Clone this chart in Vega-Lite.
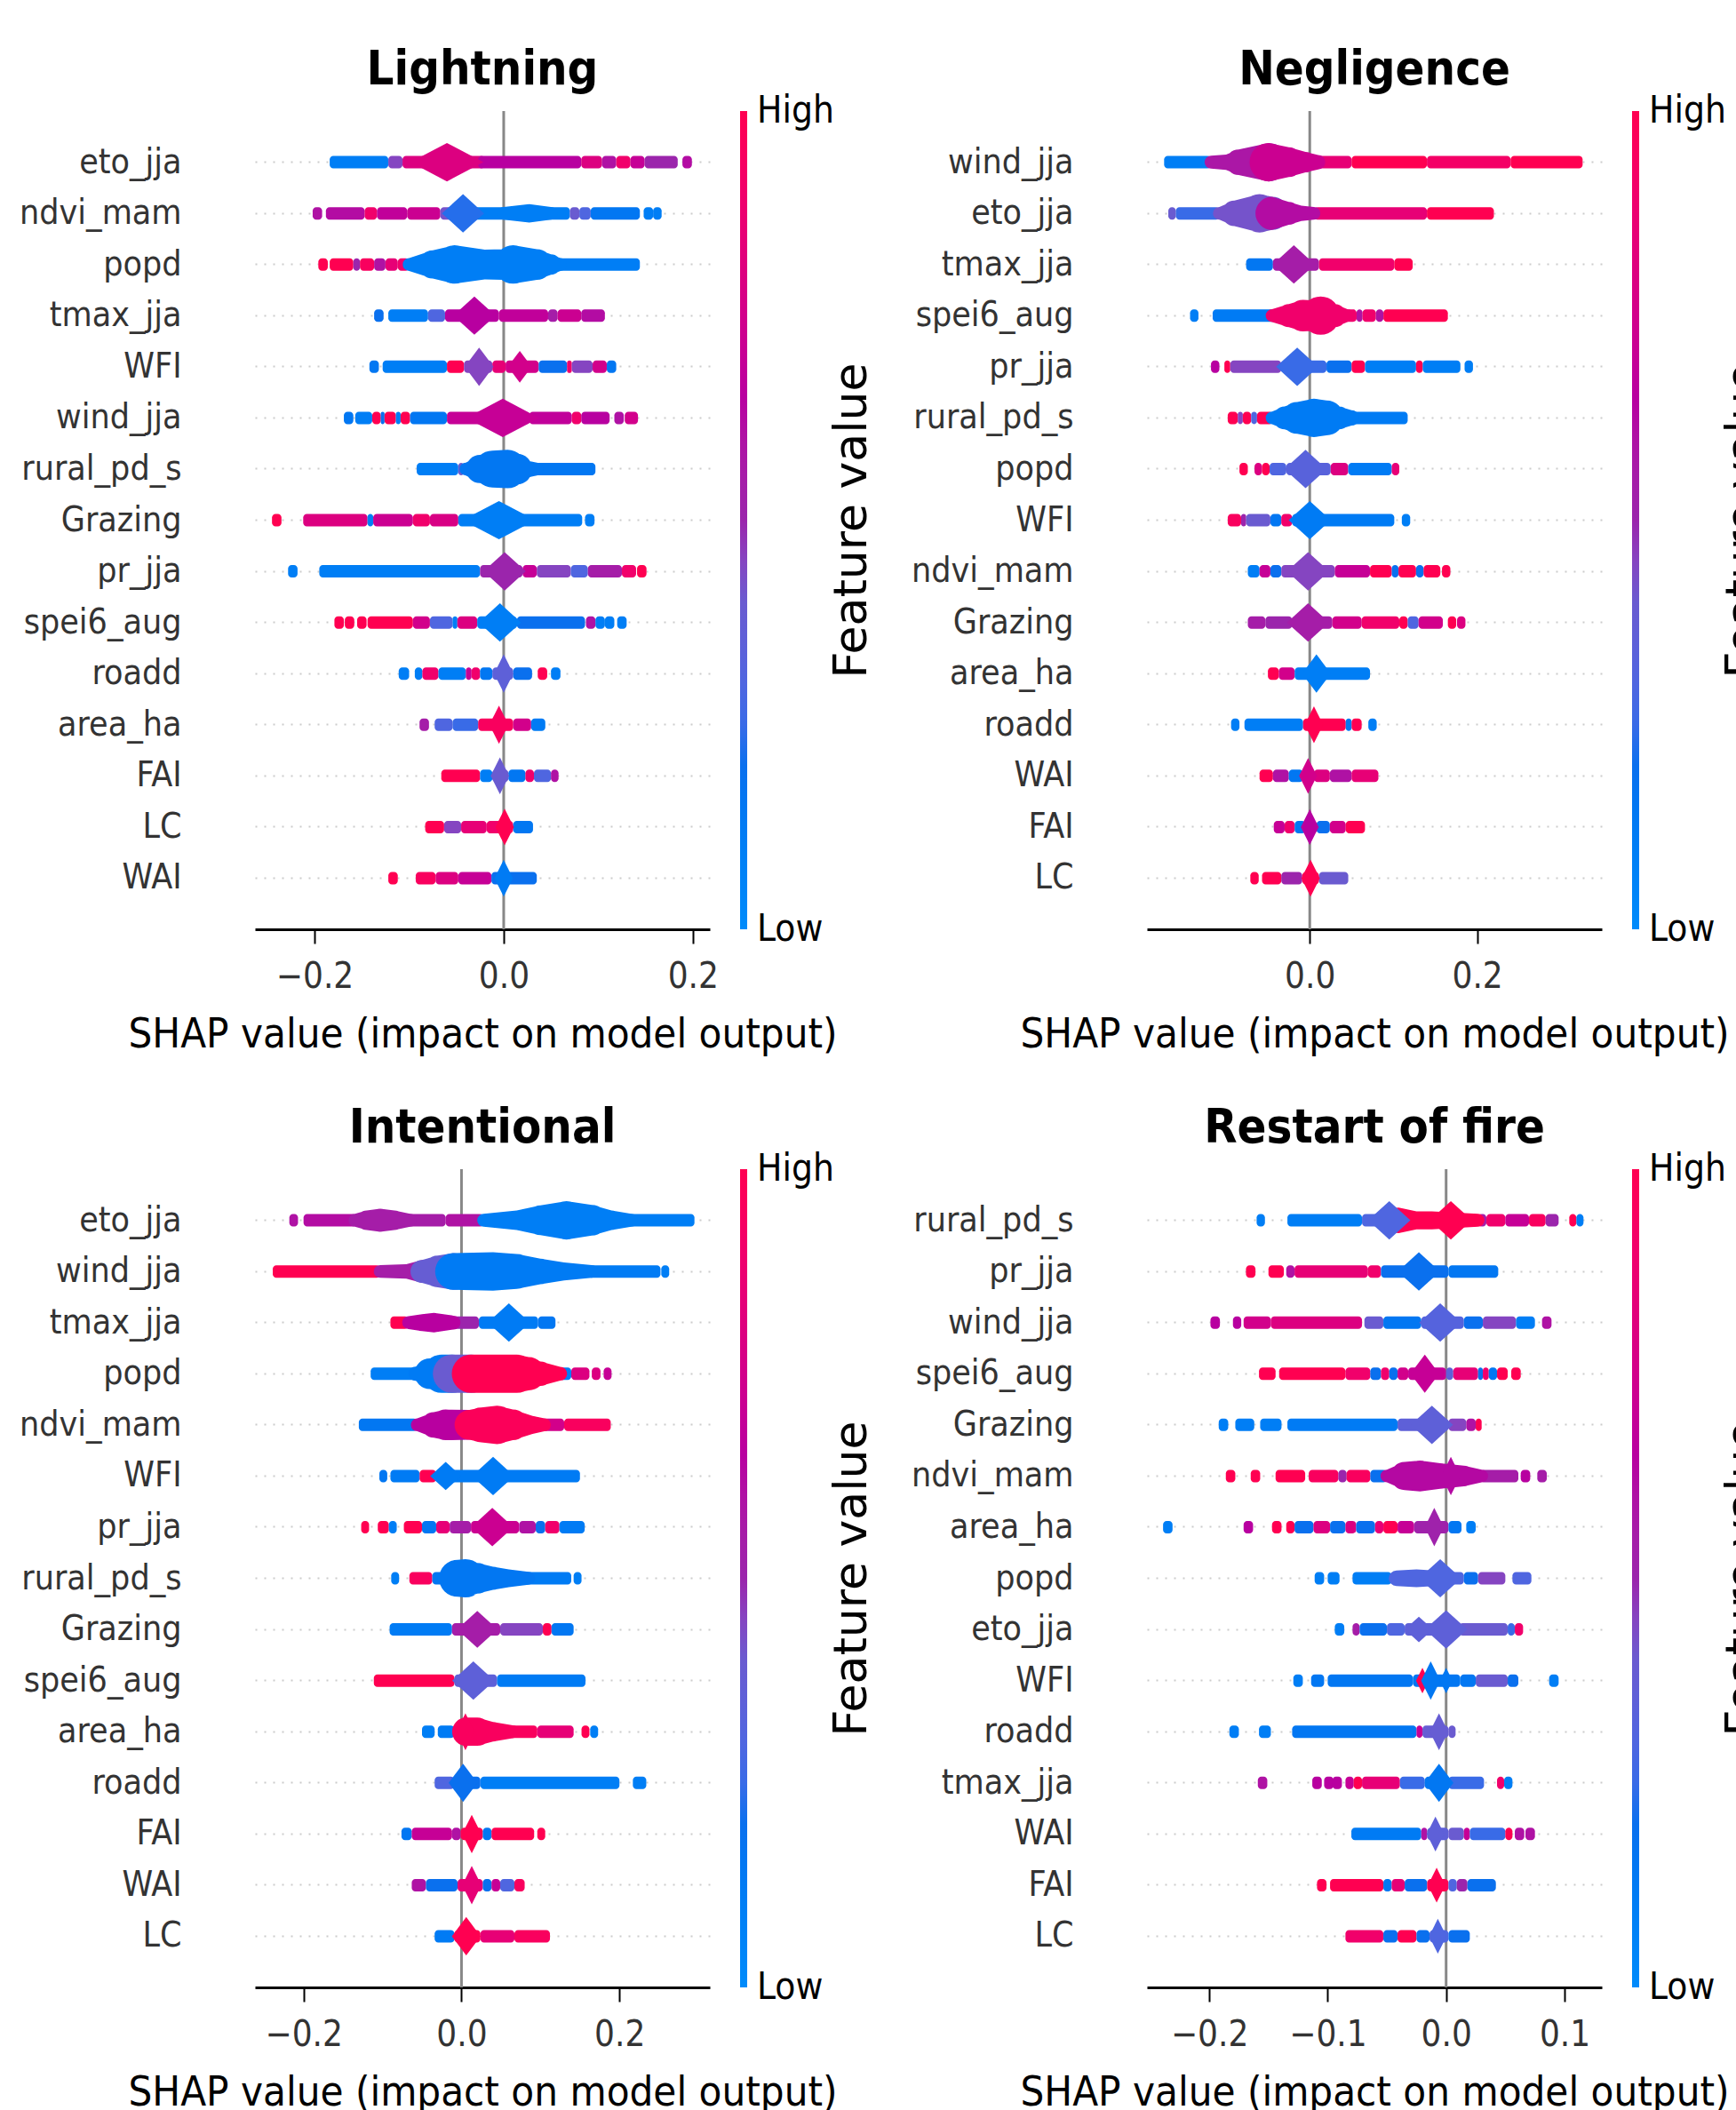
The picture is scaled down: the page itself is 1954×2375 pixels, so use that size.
{"$schema":"https://vega.github.io/schema/vega-lite/v6.json","padding":{"left":21,"top":51,"right":0,"bottom":0},"background":"white",
"config":{"view":{"stroke":null},"font":"DejaVu Sans Condensed","axis":{"grid":false},"title":{"font":"DejaVu Sans Condensed","fontWeight":"bold","fontSize":54,"color":"black","offset":18,"anchor":"middle"},
"axisX":{"format":".1f","titleFont":"DejaVu Sans Condensed","titleFontSize":47,"titleFontWeight":"normal","titleColor":"black","titlePadding":22,"titleLimit":1000,"labelFontSize":40,"labelColor":"#333","labelPadding":17,"domainColor":"black","domainWidth":3,"tickColor":"black","tickWidth":2,"tickSize":16},
"axisY":{"domain":false,"ticks":false,"labelFontSize":39,"labelLimit":400,"labelColor":"#333","labelPadding":83,"grid":true,"gridDash":[2,8],"gridColor":"#ccc","gridWidth":2}},
"datasets":{
"Lb":[
{"f":"eto_jja","x":-0.184,"x2":-0.122,"v":0.1},{"f":"eto_jja","x":-0.122,"x2":-0.107,"v":0.45},{"f":"eto_jja","x":-0.107,"x2":-0.02,"v":0.8},{"f":"eto_jja","x":-0.027,"x2":0.082,"v":0.65},{"f":"eto_jja","x":0.082,"x2":0.104,"v":0.8},{"f":"eto_jja","x":0.104,"x2":0.119,"v":0.6},{"f":"eto_jja","x":0.119,"x2":0.134,"v":0.9},{"f":"eto_jja","x":0.134,"x2":0.149,"v":0.7},{"f":"eto_jja","x":0.149,"x2":0.184,"v":0.5},{"f":"eto_jja","x":0.189,"x2":0.199,"v":0.62},
{"f":"ndvi_mam","x":-0.202,"x2":-0.192,"v":0.6},{"f":"ndvi_mam","x":-0.188,"x2":-0.147,"v":0.62},{"f":"ndvi_mam","x":-0.147,"x2":-0.134,"v":0.9},{"f":"ndvi_mam","x":-0.134,"x2":-0.102,"v":0.68},{"f":"ndvi_mam","x":-0.102,"x2":-0.067,"v":0.72},{"f":"ndvi_mam","x":-0.067,"x2":-0.05,"v":0.42},{"f":"ndvi_mam","x":-0.05,"x2":0.07,"v":0.1},{"f":"ndvi_mam","x":0.07,"x2":0.08,"v":0.4},{"f":"ndvi_mam","x":0.08,"x2":0.092,"v":0.3},{"f":"ndvi_mam","x":0.092,"x2":0.144,"v":0.15},{"f":"ndvi_mam","x":0.148,"x2":0.158,"v":0.1},{"f":"ndvi_mam","x":0.158,"x2":0.167,"v":0.1},
{"f":"popd","x":-0.196,"x2":-0.186,"v":1},{"f":"popd","x":-0.184,"x2":-0.159,"v":1},{"f":"popd","x":-0.159,"x2":-0.152,"v":0.5},{"f":"popd","x":-0.152,"x2":-0.137,"v":0.95},{"f":"popd","x":-0.137,"x2":-0.125,"v":0.6},{"f":"popd","x":-0.125,"x2":-0.112,"v":0.85},{"f":"popd","x":-0.112,"x2":-0.1,"v":0.9},{"f":"popd","x":0.05,"x2":0.144,"v":0.1},
{"f":"tmax_jja","x":-0.137,"x2":-0.127,"v":0.2},{"f":"tmax_jja","x":-0.122,"x2":-0.08,"v":0.1},{"f":"tmax_jja","x":-0.08,"x2":-0.062,"v":0.3},{"f":"tmax_jja","x":-0.062,"x2":-0.005,"v":0.65},{"f":"tmax_jja","x":-0.005,"x2":0.047,"v":0.68},{"f":"tmax_jja","x":0.047,"x2":0.057,"v":0.55},{"f":"tmax_jja","x":0.057,"x2":0.082,"v":0.72},{"f":"tmax_jja","x":0.082,"x2":0.107,"v":0.62},
{"f":"WFI","x":-0.142,"x2":-0.132,"v":0.15},{"f":"WFI","x":-0.128,"x2":-0.06,"v":0.1},{"f":"WFI","x":-0.06,"x2":-0.042,"v":1},{"f":"WFI","x":-0.042,"x2":-0.012,"v":0.45},{"f":"WFI","x":-0.012,"x2":0.002,"v":0.85},{"f":"WFI","x":0.002,"x2":0.037,"v":0.75},{"f":"WFI","x":0.037,"x2":0.067,"v":0.2},{"f":"WFI","x":0.067,"x2":0.072,"v":0.9},{"f":"WFI","x":0.072,"x2":0.094,"v":0.45},{"f":"WFI","x":0.094,"x2":0.109,"v":0.75},{"f":"WFI","x":0.109,"x2":0.119,"v":0.15},
{"f":"wind_jja","x":-0.169,"x2":-0.159,"v":0.15},{"f":"wind_jja","x":-0.157,"x2":-0.139,"v":0.1},{"f":"wind_jja","x":-0.139,"x2":-0.13,"v":1},{"f":"wind_jja","x":-0.13,"x2":-0.126,"v":0.2},{"f":"wind_jja","x":-0.126,"x2":-0.114,"v":1},{"f":"wind_jja","x":-0.114,"x2":-0.109,"v":0.1},{"f":"wind_jja","x":-0.109,"x2":-0.099,"v":1},{"f":"wind_jja","x":-0.099,"x2":-0.06,"v":0.15},{"f":"wind_jja","x":-0.06,"x2":0.027,"v":0.7},{"f":"wind_jja","x":0.027,"x2":0.072,"v":0.68},{"f":"wind_jja","x":0.072,"x2":0.082,"v":0.9},{"f":"wind_jja","x":0.082,"x2":0.112,"v":0.65},{"f":"wind_jja","x":0.117,"x2":0.127,"v":0.6},{"f":"wind_jja","x":0.128,"x2":0.142,"v":0.75},
{"f":"rural_pd_s","x":-0.092,"x2":-0.048,"v":0.1},{"f":"rural_pd_s","x":-0.048,"x2":-0.042,"v":0.4},{"f":"rural_pd_s","x":0.025,"x2":0.097,"v":0.15},
{"f":"Grazing","x":-0.245,"x2":-0.235,"v":1},{"f":"Grazing","x":-0.212,"x2":-0.144,"v":0.8},{"f":"Grazing","x":-0.144,"x2":-0.138,"v":0.1},{"f":"Grazing","x":-0.138,"x2":-0.096,"v":0.72},{"f":"Grazing","x":-0.096,"x2":-0.078,"v":0.9},{"f":"Grazing","x":-0.078,"x2":-0.048,"v":0.78},{"f":"Grazing","x":-0.048,"x2":0.083,"v":0.1},{"f":"Grazing","x":0.086,"x2":0.096,"v":0.1},
{"f":"pr_jja","x":-0.228,"x2":-0.218,"v":0.1},{"f":"pr_jja","x":-0.195,"x2":-0.025,"v":0.1},{"f":"pr_jja","x":-0.025,"x2":0.02,"v":0.5},{"f":"pr_jja","x":0.02,"x2":0.035,"v":0.7},{"f":"pr_jja","x":0.035,"x2":0.071,"v":0.45},{"f":"pr_jja","x":0.071,"x2":0.089,"v":0.3},{"f":"pr_jja","x":0.089,"x2":0.125,"v":0.55},{"f":"pr_jja","x":0.125,"x2":0.14,"v":0.9},{"f":"pr_jja","x":0.141,"x2":0.151,"v":1},
{"f":"spei6_aug","x":-0.179,"x2":-0.169,"v":1},{"f":"spei6_aug","x":-0.168,"x2":-0.158,"v":1},{"f":"spei6_aug","x":-0.155,"x2":-0.145,"v":1},{"f":"spei6_aug","x":-0.144,"x2":-0.096,"v":1},{"f":"spei6_aug","x":-0.096,"x2":-0.078,"v":0.75},{"f":"spei6_aug","x":-0.078,"x2":-0.054,"v":0.3},{"f":"spei6_aug","x":-0.054,"x2":-0.049,"v":0.1},{"f":"spei6_aug","x":-0.049,"x2":-0.028,"v":0.8},{"f":"spei6_aug","x":-0.028,"x2":0.014,"v":0.1},{"f":"spei6_aug","x":0.014,"x2":0.086,"v":0.2},{"f":"spei6_aug","x":0.087,"x2":0.097,"v":0.6},{"f":"spei6_aug","x":0.097,"x2":0.107,"v":0.1},{"f":"spei6_aug","x":0.107,"x2":0.117,"v":0.1},{"f":"spei6_aug","x":0.12,"x2":0.13,"v":0.1},
{"f":"roadd","x":-0.111,"x2":-0.1,"v":0.1},{"f":"roadd","x":-0.094,"x2":-0.086,"v":0.1},{"f":"roadd","x":-0.086,"x2":-0.069,"v":0.9},{"f":"roadd","x":-0.069,"x2":-0.04,"v":0.1},{"f":"roadd","x":-0.04,"x2":-0.034,"v":0.7},{"f":"roadd","x":-0.034,"x2":-0.025,"v":0.9},{"f":"roadd","x":-0.025,"x2":-0.012,"v":0.15},{"f":"roadd","x":-0.012,"x2":0.01,"v":0.35},{"f":"roadd","x":0.01,"x2":0.03,"v":0.2},{"f":"roadd","x":0.036,"x2":0.046,"v":1},{"f":"roadd","x":0.05,"x2":0.06,"v":0.1},
{"f":"area_ha","x":-0.089,"x2":-0.079,"v":0.55},{"f":"area_ha","x":-0.073,"x2":-0.054,"v":0.3},{"f":"area_ha","x":-0.054,"x2":-0.027,"v":0.25},{"f":"area_ha","x":-0.027,"x2":0.01,"v":0.95},{"f":"area_ha","x":0.01,"x2":0.029,"v":0.75},{"f":"area_ha","x":0.029,"x2":0.044,"v":0.12},
{"f":"FAI","x":-0.066,"x2":-0.025,"v":1},{"f":"FAI","x":-0.025,"x2":-0.012,"v":0.1},{"f":"FAI","x":-0.012,"x2":0.005,"v":0.4},{"f":"FAI","x":0.005,"x2":0.023,"v":0.15},{"f":"FAI","x":0.023,"x2":0.032,"v":0.9},{"f":"FAI","x":0.032,"x2":0.05,"v":0.3},{"f":"FAI","x":0.05,"x2":0.058,"v":0.6},
{"f":"LC","x":-0.083,"x2":-0.063,"v":1},{"f":"LC","x":-0.063,"x2":-0.045,"v":0.45},{"f":"LC","x":-0.045,"x2":-0.018,"v":0.85},{"f":"LC","x":-0.018,"x2":0.01,"v":0.9},{"f":"LC","x":0.01,"x2":0.031,"v":0.15},
{"f":"WAI","x":-0.122,"x2":-0.112,"v":1},{"f":"WAI","x":-0.093,"x2":-0.072,"v":0.95},{"f":"WAI","x":-0.072,"x2":-0.048,"v":0.8},{"f":"WAI","x":-0.048,"x2":-0.013,"v":0.7},{"f":"WAI","x":-0.013,"x2":0.035,"v":0.2}],
"Lt":[
{"f":"ndvi_mam","s":3,"x":0,"w":0.25,"v":0.1},{"f":"ndvi_mam","s":3,"x":0.027,"w":0.36,"v":0.1},{"f":"ndvi_mam","s":3,"x":0.05,"w":0.25,"v":0.1},
{"f":"popd","s":1,"x":-0.1,"w":0.25,"v":0.1},{"f":"popd","s":1,"x":-0.075,"w":0.55,"v":0.1},{"f":"popd","s":1,"x":-0.052,"w":0.75,"v":0.1},{"f":"popd","s":1,"x":-0.02,"w":0.58,"v":0.1},{"f":"popd","s":1,"x":0,"w":0.6,"v":0.1},{"f":"popd","s":1,"x":0.01,"w":0.75,"v":0.1},{"f":"popd","s":1,"x":0.035,"w":0.6,"v":0.1},{"f":"popd","s":1,"x":0.05,"w":0.4,"v":0.1},{"f":"popd","s":1,"x":0.06,"w":0.25,"v":0.1},
{"f":"rural_pd_s","s":1,"x":-0.04,"w":0.25,"v":0.15},{"f":"rural_pd_s","s":1,"x":-0.025,"w":0.55,"v":0.15},{"f":"rural_pd_s","s":1,"x":-0.012,"w":0.72,"v":0.15},{"f":"rural_pd_s","s":1,"x":0.004,"w":0.75,"v":0.15},{"f":"rural_pd_s","s":1,"x":0.014,"w":0.6,"v":0.15},{"f":"rural_pd_s","s":1,"x":0.025,"w":0.33,"v":0.15},{"f":"rural_pd_s","s":1,"x":0.035,"w":0.25,"v":0.15}],
"Lp":[
{"f":"eto_jja","k":"l","x":-0.06,"w":0.75,"v":0.8},{"f":"ndvi_mam","k":"m","x":-0.043,"w":0.75,"v":0.22},{"f":"tmax_jja","k":"m","x":-0.031,"w":0.75,"v":0.65},{"f":"WFI","k":"o","x":-0.026,"w":0.75,"v":0.45},{"f":"WFI","k":"o","x":0.017,"w":0.62,"v":0.75},{"f":"wind_jja","k":"l","x":-0.001,"w":0.75,"v":0.7},{"f":"Grazing","k":"l","x":-0.005,"w":0.75,"v":0.1},{"f":"pr_jja","k":"m","x":0.001,"w":0.75,"v":0.5},{"f":"spei6_aug","k":"m","x":-0.004,"w":0.75,"v":0.1},{"f":"roadd","k":"n","x":0,"w":0.75,"v":0.35},{"f":"area_ha","k":"n","x":-0.005,"w":0.75,"v":0.95},{"f":"FAI","k":"n","x":-0.004,"w":0.72,"v":0.4},{"f":"LC","k":"n","x":0.001,"w":0.72,"v":1},{"f":"WAI","k":"n","x":0,"w":0.72,"v":0.12}],
"Nb":[
{"f":"wind_jja","x":-0.174,"x2":-0.118,"v":0.1},{"f":"wind_jja","x":0.005,"x2":0.05,"v":0.85},{"f":"wind_jja","x":0.05,"x2":0.14,"v":1},{"f":"wind_jja","x":0.14,"x2":0.24,"v":0.92},{"f":"wind_jja","x":0.24,"x2":0.326,"v":1},
{"f":"eto_jja","x":-0.169,"x2":-0.16,"v":0.4},{"f":"eto_jja","x":-0.16,"x2":-0.108,"v":0.25},{"f":"eto_jja","x":0.005,"x2":0.14,"v":0.85},{"f":"eto_jja","x":0.14,"x2":0.22,"v":1},
{"f":"tmax_jja","x":-0.076,"x2":-0.044,"v":0.15},{"f":"tmax_jja","x":-0.044,"x2":0.011,"v":0.55},{"f":"tmax_jja","x":0.011,"x2":0.101,"v":0.9},{"f":"tmax_jja","x":0.101,"x2":0.123,"v":1},
{"f":"spei6_aug","x":-0.143,"x2":-0.133,"v":0.1},{"f":"spei6_aug","x":-0.116,"x2":-0.04,"v":0.12},{"f":"spei6_aug","x":0.043,"x2":0.056,"v":0.9},{"f":"spei6_aug","x":0.056,"x2":0.063,"v":0.6},{"f":"spei6_aug","x":0.063,"x2":0.079,"v":0.9},{"f":"spei6_aug","x":0.079,"x2":0.088,"v":0.6},{"f":"spei6_aug","x":0.088,"x2":0.165,"v":1},
{"f":"pr_jja","x":-0.118,"x2":-0.108,"v":0.65},{"f":"pr_jja","x":-0.102,"x2":-0.095,"v":1},{"f":"pr_jja","x":-0.095,"x2":-0.034,"v":0.45},{"f":"pr_jja","x":-0.034,"x2":0.02,"v":0.25},{"f":"pr_jja","x":0.02,"x2":0.05,"v":0.2},{"f":"pr_jja","x":0.05,"x2":0.066,"v":1},{"f":"pr_jja","x":0.066,"x2":0.127,"v":0.1},{"f":"pr_jja","x":0.127,"x2":0.135,"v":1},{"f":"pr_jja","x":0.135,"x2":0.18,"v":0.1},{"f":"pr_jja","x":0.185,"x2":0.195,"v":0.1},
{"f":"rural_pd_s","x":-0.098,"x2":-0.086,"v":1},{"f":"rural_pd_s","x":-0.086,"x2":-0.08,"v":0.45},{"f":"rural_pd_s","x":-0.08,"x2":-0.07,"v":1},{"f":"rural_pd_s","x":-0.07,"x2":-0.063,"v":0.3},{"f":"rural_pd_s","x":-0.063,"x2":-0.044,"v":1},{"f":"rural_pd_s","x":0.05,"x2":0.117,"v":0.12},
{"f":"popd","x":-0.084,"x2":-0.074,"v":1},{"f":"popd","x":-0.066,"x2":-0.057,"v":0.8},{"f":"popd","x":-0.057,"x2":-0.048,"v":1},{"f":"popd","x":-0.048,"x2":-0.028,"v":0.3},{"f":"popd","x":-0.028,"x2":0.025,"v":0.33},{"f":"popd","x":0.025,"x2":0.046,"v":0.8},{"f":"popd","x":0.046,"x2":0.098,"v":0.12},{"f":"popd","x":0.098,"x2":0.107,"v":0.85},
{"f":"WFI","x":-0.098,"x2":-0.082,"v":0.95},{"f":"WFI","x":-0.082,"x2":-0.076,"v":0.5},{"f":"WFI","x":-0.076,"x2":-0.047,"v":0.4},{"f":"WFI","x":-0.047,"x2":-0.034,"v":0.15},{"f":"WFI","x":-0.034,"x2":-0.021,"v":0.9},{"f":"WFI","x":-0.021,"x2":0.101,"v":0.12},{"f":"WFI","x":0.11,"x2":0.12,"v":0.1},
{"f":"ndvi_mam","x":-0.074,"x2":-0.06,"v":0.1},{"f":"ndvi_mam","x":-0.06,"x2":-0.047,"v":0.7},{"f":"ndvi_mam","x":-0.047,"x2":-0.034,"v":0.2},{"f":"ndvi_mam","x":-0.034,"x2":0.03,"v":0.45},{"f":"ndvi_mam","x":0.03,"x2":0.072,"v":0.7},{"f":"ndvi_mam","x":0.072,"x2":0.098,"v":1},{"f":"ndvi_mam","x":0.098,"x2":0.106,"v":0.2},{"f":"ndvi_mam","x":0.106,"x2":0.127,"v":1},{"f":"ndvi_mam","x":0.127,"x2":0.136,"v":0.2},{"f":"ndvi_mam","x":0.136,"x2":0.156,"v":1},{"f":"ndvi_mam","x":0.158,"x2":0.168,"v":1},
{"f":"Grazing","x":-0.074,"x2":-0.053,"v":0.55},{"f":"Grazing","x":-0.053,"x2":-0.021,"v":0.5},{"f":"Grazing","x":-0.021,"x2":0.027,"v":0.55},{"f":"Grazing","x":0.027,"x2":0.062,"v":0.75},{"f":"Grazing","x":0.062,"x2":0.107,"v":0.9},{"f":"Grazing","x":0.107,"x2":0.117,"v":1},{"f":"Grazing","x":0.117,"x2":0.13,"v":0.3},{"f":"Grazing","x":0.13,"x2":0.159,"v":0.75},{"f":"Grazing","x":0.165,"x2":0.175,"v":1},{"f":"Grazing","x":0.176,"x2":0.186,"v":0.8},
{"f":"area_ha","x":-0.05,"x2":-0.037,"v":1},{"f":"area_ha","x":-0.037,"x2":-0.018,"v":0.75},{"f":"area_ha","x":-0.018,"x2":0.072,"v":0.1},
{"f":"roadd","x":-0.094,"x2":-0.084,"v":0.1},{"f":"roadd","x":-0.078,"x2":-0.008,"v":0.1},{"f":"roadd","x":-0.008,"x2":0.043,"v":1},{"f":"roadd","x":0.043,"x2":0.05,"v":0.15},{"f":"roadd","x":0.05,"x2":0.062,"v":1},{"f":"roadd","x":0.07,"x2":0.08,"v":0.1},
{"f":"WAI","x":-0.06,"x2":-0.044,"v":1},{"f":"WAI","x":-0.044,"x2":-0.025,"v":0.6},{"f":"WAI","x":-0.025,"x2":-0.008,"v":0.15},{"f":"WAI","x":-0.008,"x2":0.005,"v":0.75},{"f":"WAI","x":0.005,"x2":0.024,"v":0.8},{"f":"WAI","x":0.024,"x2":0.05,"v":0.6},{"f":"WAI","x":0.05,"x2":0.082,"v":0.85},
{"f":"FAI","x":-0.043,"x2":-0.03,"v":0.7},{"f":"FAI","x":-0.03,"x2":-0.018,"v":0.9},{"f":"FAI","x":-0.018,"x2":-0.005,"v":0.15},{"f":"FAI","x":-0.005,"x2":0.008,"v":0.65},{"f":"FAI","x":0.008,"x2":0.024,"v":0.2},{"f":"FAI","x":0.024,"x2":0.043,"v":0.75},{"f":"FAI","x":0.043,"x2":0.066,"v":1},
{"f":"LC","x":-0.071,"x2":-0.061,"v":1},{"f":"LC","x":-0.057,"x2":-0.034,"v":1},{"f":"LC","x":-0.034,"x2":-0.009,"v":0.5},{"f":"LC","x":-0.009,"x2":0.011,"v":1},{"f":"LC","x":0.011,"x2":0.046,"v":0.4}],
"Nt":[
{"f":"wind_jja","s":1,"x":-0.118,"w":0.25,"v":0.58},{"f":"wind_jja","s":1,"x":-0.1,"w":0.3,"v":0.58},{"f":"wind_jja","s":1,"x":-0.085,"w":0.5,"v":0.58},{"f":"wind_jja","s":1,"x":-0.049,"w":0.75,"v":0.58},{"f":"wind_jja","s":2,"x":-0.049,"w":0.75,"v":0.72},{"f":"wind_jja","s":2,"x":-0.025,"w":0.58,"v":0.72},{"f":"wind_jja","s":2,"x":-0.005,"w":0.4,"v":0.72},{"f":"wind_jja","s":2,"x":0.01,"w":0.28,"v":0.72},
{"f":"eto_jja","s":1,"x":-0.108,"w":0.25,"v":0.42},{"f":"eto_jja","s":1,"x":-0.09,"w":0.5,"v":0.42},{"f":"eto_jja","s":1,"x":-0.06,"w":0.75,"v":0.42},{"f":"eto_jja","s":1,"x":-0.045,"w":0.65,"v":0.42},{"f":"eto_jja","s":2,"x":-0.045,"w":0.65,"v":0.62},{"f":"eto_jja","s":2,"x":-0.025,"w":0.45,"v":0.62},{"f":"eto_jja","s":2,"x":-0.01,"w":0.3,"v":0.62},{"f":"eto_jja","s":2,"x":0.005,"w":0.25,"v":0.62},
{"f":"spei6_aug","s":1,"x":-0.045,"w":0.25,"v":0.9},{"f":"spei6_aug","s":1,"x":-0.025,"w":0.45,"v":0.9},{"f":"spei6_aug","s":1,"x":-0.008,"w":0.62,"v":0.9},{"f":"spei6_aug","s":1,"x":0.002,"w":0.6,"v":0.9},{"f":"spei6_aug","s":1,"x":0.013,"w":0.75,"v":0.9},{"f":"spei6_aug","s":1,"x":0.03,"w":0.45,"v":0.9},{"f":"spei6_aug","s":1,"x":0.045,"w":0.25,"v":0.9},
{"f":"rural_pd_s","s":1,"x":-0.045,"w":0.25,"v":0.12},{"f":"rural_pd_s","s":1,"x":-0.03,"w":0.45,"v":0.12},{"f":"rural_pd_s","s":1,"x":-0.015,"w":0.62,"v":0.12},{"f":"rural_pd_s","s":1,"x":0.005,"w":0.75,"v":0.12},{"f":"rural_pd_s","s":1,"x":0.02,"w":0.68,"v":0.12},{"f":"rural_pd_s","s":1,"x":0.035,"w":0.45,"v":0.12},{"f":"rural_pd_s","s":1,"x":0.05,"w":0.3,"v":0.12}],
"Np":[
{"f":"tmax_jja","k":"m","x":-0.019,"w":0.75,"v":0.55},{"f":"pr_jja","k":"m","x":-0.015,"w":0.75,"v":0.25},{"f":"popd","k":"m","x":-0.005,"w":0.75,"v":0.33},{"f":"WFI","k":"m","x":0,"w":0.75,"v":0.12},{"f":"ndvi_mam","k":"m","x":-0.002,"w":0.75,"v":0.45},{"f":"Grazing","k":"m","x":-0.002,"w":0.75,"v":0.55},{"f":"area_ha","k":"o","x":0.008,"w":0.75,"v":0.1},{"f":"roadd","k":"n","x":0.005,"w":0.72,"v":1},{"f":"WAI","k":"n","x":-0.002,"w":0.7,"v":0.75},{"f":"FAI","k":"n","x":0,"w":0.7,"v":0.65},{"f":"LC","k":"n","x":0.001,"w":0.72,"v":1}],
"Ib":[
{"f":"eto_jja","x":-0.218,"x2":-0.207,"v":0.6},{"f":"eto_jja","x":-0.2,"x2":-0.133,"v":0.62},{"f":"eto_jja","x":-0.073,"x2":-0.02,"v":0.55},{"f":"eto_jja","x":-0.02,"x2":0.028,"v":0.6},{"f":"eto_jja","x":0.21,"x2":0.295,"v":0.1},
{"f":"wind_jja","x":-0.239,"x2":-0.103,"v":1},{"f":"wind_jja","x":0.16,"x2":0.252,"v":0.12},{"f":"wind_jja","x":0.253,"x2":0.263,"v":0.1},
{"f":"tmax_jja","x":-0.09,"x2":-0.067,"v":1},{"f":"tmax_jja","x":-0.01,"x2":0.022,"v":0.5},{"f":"tmax_jja","x":0.022,"x2":0.097,"v":0.12},{"f":"tmax_jja","x":0.097,"x2":0.119,"v":0.15},
{"f":"popd","x":-0.115,"x2":-0.058,"v":0.1},{"f":"popd","x":0.124,"x2":0.139,"v":0.1},{"f":"popd","x":0.139,"x2":0.162,"v":0.8},{"f":"popd","x":0.165,"x2":0.176,"v":0.8},{"f":"popd","x":0.18,"x2":0.19,"v":0.7},
{"f":"ndvi_mam","x":-0.13,"x2":-0.056,"v":0.15},{"f":"ndvi_mam","x":0.1,"x2":0.13,"v":0.75},{"f":"ndvi_mam","x":0.13,"x2":0.189,"v":0.95},
{"f":"WFI","x":-0.104,"x2":-0.094,"v":0.15},{"f":"WFI","x":-0.09,"x2":-0.053,"v":0.12},{"f":"WFI","x":-0.053,"x2":-0.032,"v":1},{"f":"WFI","x":-0.032,"x2":0.15,"v":0.12},
{"f":"pr_jja","x":-0.127,"x2":-0.117,"v":1},{"f":"pr_jja","x":-0.106,"x2":-0.092,"v":1},{"f":"pr_jja","x":-0.092,"x2":-0.082,"v":0.1},{"f":"pr_jja","x":-0.073,"x2":-0.05,"v":1},{"f":"pr_jja","x":-0.05,"x2":-0.032,"v":0.15},{"f":"pr_jja","x":-0.032,"x2":-0.015,"v":0.85},{"f":"pr_jja","x":-0.015,"x2":0.012,"v":0.55},{"f":"pr_jja","x":0.012,"x2":0.073,"v":0.72},{"f":"pr_jja","x":0.073,"x2":0.094,"v":0.6},{"f":"pr_jja","x":0.094,"x2":0.106,"v":0.2},{"f":"pr_jja","x":0.106,"x2":0.124,"v":0.9},{"f":"pr_jja","x":0.124,"x2":0.156,"v":0.12},
{"f":"rural_pd_s","x":-0.089,"x2":-0.079,"v":0.1},{"f":"rural_pd_s","x":-0.066,"x2":-0.037,"v":0.95},{"f":"rural_pd_s","x":-0.037,"x2":-0.02,"v":0.15},{"f":"rural_pd_s","x":0.074,"x2":0.139,"v":0.12},{"f":"rural_pd_s","x":0.142,"x2":0.152,"v":0.1},
{"f":"Grazing","x":-0.091,"x2":-0.012,"v":0.12},{"f":"Grazing","x":-0.012,"x2":0.049,"v":0.55},{"f":"Grazing","x":0.049,"x2":0.103,"v":0.45},{"f":"Grazing","x":0.103,"x2":0.114,"v":1},{"f":"Grazing","x":0.114,"x2":0.142,"v":0.15},
{"f":"spei6_aug","x":-0.111,"x2":-0.009,"v":1},{"f":"spei6_aug","x":-0.009,"x2":0.045,"v":0.35},{"f":"spei6_aug","x":0.045,"x2":0.157,"v":0.12},
{"f":"area_ha","x":-0.05,"x2":-0.034,"v":0.1},{"f":"area_ha","x":-0.03,"x2":-0.009,"v":0.12},{"f":"area_ha","x":-0.009,"x2":0.06,"v":0.95},{"f":"area_ha","x":0.06,"x2":0.096,"v":0.95},{"f":"area_ha","x":0.096,"x2":0.142,"v":0.85},{"f":"area_ha","x":0.152,"x2":0.162,"v":1},{"f":"area_ha","x":0.163,"x2":0.173,"v":0.1},
{"f":"roadd","x":-0.034,"x2":-0.009,"v":0.3},{"f":"roadd","x":-0.009,"x2":0.024,"v":0.2},{"f":"roadd","x":0.024,"x2":0.2,"v":0.1},{"f":"roadd","x":0.217,"x2":0.234,"v":0.1},
{"f":"FAI","x":-0.076,"x2":-0.063,"v":0.15},{"f":"FAI","x":-0.063,"x2":-0.012,"v":0.7},{"f":"FAI","x":-0.012,"x2":-0.001,"v":0.6},{"f":"FAI","x":-0.001,"x2":0.027,"v":1},{"f":"FAI","x":0.027,"x2":0.038,"v":0.15},{"f":"FAI","x":0.038,"x2":0.092,"v":1},{"f":"FAI","x":0.096,"x2":0.106,"v":1},
{"f":"WAI","x":-0.063,"x2":-0.045,"v":0.6},{"f":"WAI","x":-0.045,"x2":-0.005,"v":0.2},{"f":"WAI","x":-0.005,"x2":0.027,"v":0.85},{"f":"WAI","x":0.027,"x2":0.038,"v":0.2},{"f":"WAI","x":0.038,"x2":0.049,"v":0.7},{"f":"WAI","x":0.049,"x2":0.067,"v":0.3},{"f":"WAI","x":0.067,"x2":0.08,"v":0.95},
{"f":"LC","x":-0.034,"x2":-0.009,"v":0.12},{"f":"LC","x":-0.009,"x2":0.024,"v":1},{"f":"LC","x":0.024,"x2":0.067,"v":0.85},{"f":"LC","x":0.067,"x2":0.112,"v":0.95}],
"It":[
{"f":"eto_jja","s":1,"x":-0.135,"w":0.25,"v":0.55},{"f":"eto_jja","s":1,"x":-0.12,"w":0.38,"v":0.55},{"f":"eto_jja","s":1,"x":-0.103,"w":0.45,"v":0.55},{"f":"eto_jja","s":1,"x":-0.085,"w":0.38,"v":0.55},{"f":"eto_jja","s":1,"x":-0.065,"w":0.25,"v":0.55},{"f":"eto_jja","s":2,"x":0.028,"w":0.25,"v":0.1},{"f":"eto_jja","s":2,"x":0.07,"w":0.38,"v":0.1},{"f":"eto_jja","s":2,"x":0.1,"w":0.58,"v":0.1},{"f":"eto_jja","s":2,"x":0.133,"w":0.75,"v":0.1},{"f":"eto_jja","s":2,"x":0.165,"w":0.6,"v":0.1},{"f":"eto_jja","s":2,"x":0.19,"w":0.38,"v":0.1},{"f":"eto_jja","s":2,"x":0.215,"w":0.25,"v":0.1},
{"f":"wind_jja","s":1,"x":-0.103,"w":0.25,"v":0.55},{"f":"wind_jja","s":1,"x":-0.07,"w":0.28,"v":0.55},{"f":"wind_jja","s":1,"x":-0.05,"w":0.45,"v":0.55},{"f":"wind_jja","s":2,"x":-0.05,"w":0.45,"v":0.38},{"f":"wind_jja","s":2,"x":-0.03,"w":0.62,"v":0.38},{"f":"wind_jja","s":2,"x":-0.01,"w":0.72,"v":0.38},{"f":"wind_jja","s":3,"x":-0.01,"w":0.72,"v":0.12},{"f":"wind_jja","s":3,"x":0.04,"w":0.75,"v":0.12},{"f":"wind_jja","s":3,"x":0.07,"w":0.68,"v":0.12},{"f":"wind_jja","s":3,"x":0.1,"w":0.5,"v":0.12},{"f":"wind_jja","s":3,"x":0.13,"w":0.35,"v":0.12},{"f":"wind_jja","s":3,"x":0.165,"w":0.25,"v":0.12},
{"f":"tmax_jja","s":1,"x":-0.067,"w":0.25,"v":0.65},{"f":"tmax_jja","s":1,"x":-0.05,"w":0.33,"v":0.65},{"f":"tmax_jja","s":1,"x":-0.035,"w":0.38,"v":0.65},{"f":"tmax_jja","s":1,"x":-0.01,"w":0.27,"v":0.65},
{"f":"popd","s":1,"x":-0.058,"w":0.28,"v":0.12},{"f":"popd","s":1,"x":-0.04,"w":0.6,"v":0.12},{"f":"popd","s":1,"x":-0.025,"w":0.75,"v":0.12},{"f":"popd","s":1,"x":-0.012,"w":0.75,"v":0.12},{"f":"popd","s":2,"x":-0.012,"w":0.75,"v":0.4},{"f":"popd","s":2,"x":0.012,"w":0.75,"v":0.4},{"f":"popd","s":3,"x":0.012,"w":0.75,"v":1},{"f":"popd","s":3,"x":0.07,"w":0.75,"v":1},{"f":"popd","s":3,"x":0.085,"w":0.65,"v":1},{"f":"popd","s":3,"x":0.1,"w":0.48,"v":1},{"f":"popd","s":3,"x":0.125,"w":0.27,"v":1},
{"f":"ndvi_mam","s":1,"x":-0.056,"w":0.25,"v":0.65},{"f":"ndvi_mam","s":1,"x":-0.035,"w":0.5,"v":0.65},{"f":"ndvi_mam","s":1,"x":-0.02,"w":0.6,"v":0.65},{"f":"ndvi_mam","s":1,"x":0.01,"w":0.58,"v":0.65},{"f":"ndvi_mam","s":2,"x":0.01,"w":0.58,"v":0.97},{"f":"ndvi_mam","s":2,"x":0.025,"w":0.68,"v":0.97},{"f":"ndvi_mam","s":2,"x":0.045,"w":0.75,"v":0.97},{"f":"ndvi_mam","s":2,"x":0.065,"w":0.6,"v":0.97},{"f":"ndvi_mam","s":2,"x":0.09,"w":0.35,"v":0.97},{"f":"ndvi_mam","s":2,"x":0.105,"w":0.25,"v":0.97},
{"f":"rural_pd_s","s":1,"x":-0.022,"w":0.25,"v":0.15},{"f":"rural_pd_s","s":1,"x":-0.005,"w":0.72,"v":0.15},{"f":"rural_pd_s","s":1,"x":0.005,"w":0.75,"v":0.15},{"f":"rural_pd_s","s":1,"x":0.02,"w":0.6,"v":0.15},{"f":"rural_pd_s","s":1,"x":0.04,"w":0.45,"v":0.15},{"f":"rural_pd_s","s":1,"x":0.06,"w":0.35,"v":0.15},{"f":"rural_pd_s","s":1,"x":0.085,"w":0.25,"v":0.15},
{"f":"area_ha","s":1,"x":0.006,"w":0.55,"v":0.95},{"f":"area_ha","s":1,"x":0.02,"w":0.55,"v":0.95},{"f":"area_ha","s":1,"x":0.04,"w":0.38,"v":0.95},{"f":"area_ha","s":1,"x":0.065,"w":0.25,"v":0.95}],
"Ip":[
{"f":"tmax_jja","k":"m","x":0.06,"w":0.75,"v":0.12},{"f":"WFI","k":"m","x":-0.02,"w":0.55,"v":0.12},{"f":"WFI","k":"m","x":0.04,"w":0.75,"v":0.12},{"f":"pr_jja","k":"m","x":0.039,"w":0.75,"v":0.72},{"f":"Grazing","k":"m","x":0.02,"w":0.72,"v":0.55},{"f":"spei6_aug","k":"m","x":0.015,"w":0.75,"v":0.35},{"f":"area_ha","k":"n","x":0.005,"w":0.72,"v":0.95},{"f":"roadd","k":"o","x":0.002,"w":0.75,"v":0.2},{"f":"FAI","k":"n","x":0.013,"w":0.75,"v":1},{"f":"WAI","k":"n","x":0.013,"w":0.75,"v":0.85},{"f":"LC","k":"o","x":0.006,"w":0.75,"v":1}],
"Rb":[
{"f":"rural_pd_s","x":-0.16,"x2":-0.153,"v":0.1},{"f":"rural_pd_s","x":-0.134,"x2":-0.071,"v":0.1},{"f":"rural_pd_s","x":-0.071,"x2":-0.048,"v":0.3},{"f":"rural_pd_s","x":-0.048,"x2":-0.04,"v":0.6},{"f":"rural_pd_s","x":-0.04,"x2":0.027,"v":1},{"f":"rural_pd_s","x":0.027,"x2":0.034,"v":0.55},{"f":"rural_pd_s","x":0.034,"x2":0.05,"v":0.9},{"f":"rural_pd_s","x":0.05,"x2":0.07,"v":0.7},{"f":"rural_pd_s","x":0.07,"x2":0.084,"v":0.95},{"f":"rural_pd_s","x":0.084,"x2":0.095,"v":0.5},{"f":"rural_pd_s","x":0.104,"x2":0.11,"v":1},{"f":"rural_pd_s","x":0.11,"x2":0.116,"v":0.1},
{"f":"pr_jja","x":-0.169,"x2":-0.161,"v":1},{"f":"pr_jja","x":-0.15,"x2":-0.137,"v":1},{"f":"pr_jja","x":-0.135,"x2":-0.128,"v":0.6},{"f":"pr_jja","x":-0.128,"x2":-0.066,"v":0.85},{"f":"pr_jja","x":-0.066,"x2":-0.055,"v":0.9},{"f":"pr_jja","x":-0.055,"x2":0.002,"v":0.2},{"f":"pr_jja","x":0.002,"x2":0.044,"v":0.15},
{"f":"wind_jja","x":-0.199,"x2":-0.191,"v":0.65},{"f":"wind_jja","x":-0.18,"x2":-0.173,"v":0.65},{"f":"wind_jja","x":-0.171,"x2":-0.148,"v":0.75},{"f":"wind_jja","x":-0.148,"x2":-0.071,"v":0.8},{"f":"wind_jja","x":-0.069,"x2":-0.053,"v":0.4},{"f":"wind_jja","x":-0.053,"x2":-0.021,"v":0.15},{"f":"wind_jja","x":-0.021,"x2":0.015,"v":0.32},{"f":"wind_jja","x":0.015,"x2":0.031,"v":0.2},{"f":"wind_jja","x":0.031,"x2":0.059,"v":0.45},{"f":"wind_jja","x":0.059,"x2":0.075,"v":0.1},{"f":"wind_jja","x":0.081,"x2":0.089,"v":0.6},
{"f":"spei6_aug","x":-0.158,"x2":-0.144,"v":1},{"f":"spei6_aug","x":-0.141,"x2":-0.085,"v":1},{"f":"spei6_aug","x":-0.085,"x2":-0.064,"v":0.9},{"f":"spei6_aug","x":-0.064,"x2":-0.055,"v":0.2},{"f":"spei6_aug","x":-0.055,"x2":-0.048,"v":0.9},{"f":"spei6_aug","x":-0.048,"x2":-0.041,"v":0.2},{"f":"spei6_aug","x":-0.041,"x2":-0.032,"v":0.75},{"f":"spei6_aug","x":-0.032,"x2":0,"v":0.7},{"f":"spei6_aug","x":0,"x2":0.006,"v":0.35},{"f":"spei6_aug","x":0.006,"x2":0.027,"v":0.85},{"f":"spei6_aug","x":0.027,"x2":0.031,"v":0.2},{"f":"spei6_aug","x":0.031,"x2":0.036,"v":0.9},{"f":"spei6_aug","x":0.036,"x2":0.043,"v":0.15},{"f":"spei6_aug","x":0.043,"x2":0.052,"v":1},{"f":"spei6_aug","x":0.055,"x2":0.063,"v":1},
{"f":"Grazing","x":-0.192,"x2":-0.184,"v":0.1},{"f":"Grazing","x":-0.178,"x2":-0.162,"v":0.1},{"f":"Grazing","x":-0.157,"x2":-0.139,"v":0.1},{"f":"Grazing","x":-0.134,"x2":-0.041,"v":0.12},{"f":"Grazing","x":-0.041,"x2":0.002,"v":0.35},{"f":"Grazing","x":0.002,"x2":0.017,"v":0.45},{"f":"Grazing","x":0.017,"x2":0.025,"v":0.6},{"f":"Grazing","x":0.025,"x2":0.03,"v":1},
{"f":"ndvi_mam","x":-0.186,"x2":-0.178,"v":1},{"f":"ndvi_mam","x":-0.165,"x2":-0.157,"v":1},{"f":"ndvi_mam","x":-0.144,"x2":-0.119,"v":1},{"f":"ndvi_mam","x":-0.116,"x2":-0.091,"v":0.95},{"f":"ndvi_mam","x":-0.091,"x2":-0.084,"v":0.5},{"f":"ndvi_mam","x":-0.084,"x2":-0.064,"v":0.95},{"f":"ndvi_mam","x":-0.064,"x2":-0.05,"v":0.2},{"f":"ndvi_mam","x":0.029,"x2":0.061,"v":0.55},{"f":"ndvi_mam","x":0.063,"x2":0.071,"v":0.65},{"f":"ndvi_mam","x":0.077,"x2":0.085,"v":0.55},
{"f":"area_ha","x":-0.239,"x2":-0.231,"v":0.1},{"f":"area_ha","x":-0.171,"x2":-0.163,"v":0.65},{"f":"area_ha","x":-0.147,"x2":-0.139,"v":1},{"f":"area_ha","x":-0.135,"x2":-0.128,"v":1},{"f":"area_ha","x":-0.128,"x2":-0.112,"v":0.2},{"f":"area_ha","x":-0.112,"x2":-0.098,"v":0.8},{"f":"area_ha","x":-0.098,"x2":-0.085,"v":0.2},{"f":"area_ha","x":-0.085,"x2":-0.076,"v":0.8},{"f":"area_ha","x":-0.076,"x2":-0.06,"v":0.2},{"f":"area_ha","x":-0.06,"x2":-0.053,"v":0.85},{"f":"area_ha","x":-0.053,"x2":-0.041,"v":1},{"f":"area_ha","x":-0.041,"x2":-0.027,"v":0.7},{"f":"area_ha","x":-0.027,"x2":0.002,"v":0.52},{"f":"area_ha","x":0.002,"x2":0.013,"v":0.15},{"f":"area_ha","x":0.017,"x2":0.025,"v":0.1},
{"f":"popd","x":-0.111,"x2":-0.103,"v":0.1},{"f":"popd","x":-0.1,"x2":-0.09,"v":0.1},{"f":"popd","x":-0.079,"x2":-0.046,"v":0.1},{"f":"popd","x":-0.046,"x2":-0.041,"v":0.9},{"f":"popd","x":-0.039,"x2":-0.02,"v":0.2},{"f":"popd","x":-0.02,"x2":0.015,"v":0.3},{"f":"popd","x":0.015,"x2":0.027,"v":0.2},{"f":"popd","x":0.027,"x2":0.05,"v":0.45},{"f":"popd","x":0.056,"x2":0.072,"v":0.3},
{"f":"eto_jja","x":-0.094,"x2":-0.086,"v":0.1},{"f":"eto_jja","x":-0.079,"x2":-0.073,"v":0.55},{"f":"eto_jja","x":-0.073,"x2":-0.05,"v":0.2},{"f":"eto_jja","x":-0.05,"x2":-0.035,"v":0.3},{"f":"eto_jja","x":-0.035,"x2":0.011,"v":0.35},{"f":"eto_jja","x":0.011,"x2":0.052,"v":0.4},{"f":"eto_jja","x":0.052,"x2":0.058,"v":0.25},{"f":"eto_jja","x":0.058,"x2":0.065,"v":0.9},
{"f":"WFI","x":-0.129,"x2":-0.121,"v":0.1},{"f":"WFI","x":-0.114,"x2":-0.103,"v":0.15},{"f":"WFI","x":-0.1,"x2":-0.028,"v":0.15},{"f":"WFI","x":-0.028,"x2":0.012,"v":0.15},{"f":"WFI","x":0.012,"x2":0.025,"v":0.15},{"f":"WFI","x":0.025,"x2":0.052,"v":0.4},{"f":"WFI","x":0.052,"x2":0.061,"v":0.2},{"f":"WFI","x":0.087,"x2":0.095,"v":0.1},
{"f":"roadd","x":-0.183,"x2":-0.175,"v":0.1},{"f":"roadd","x":-0.158,"x2":-0.148,"v":0.1},{"f":"roadd","x":-0.13,"x2":-0.025,"v":0.15},{"f":"roadd","x":-0.025,"x2":-0.02,"v":0.7},{"f":"roadd","x":-0.02,"x2":0.002,"v":0.38},{"f":"roadd","x":0.002,"x2":0.008,"v":0.4},
{"f":"tmax_jja","x":-0.159,"x2":-0.151,"v":0.6},{"f":"tmax_jja","x":-0.113,"x2":-0.105,"v":0.65},{"f":"tmax_jja","x":-0.103,"x2":-0.095,"v":0.65},{"f":"tmax_jja","x":-0.096,"x2":-0.088,"v":0.65},{"f":"tmax_jja","x":-0.085,"x2":-0.078,"v":0.7},{"f":"tmax_jja","x":-0.078,"x2":-0.071,"v":1},{"f":"tmax_jja","x":-0.071,"x2":-0.039,"v":0.85},{"f":"tmax_jja","x":-0.039,"x2":-0.018,"v":0.25},{"f":"tmax_jja","x":-0.018,"x2":0.002,"v":0.15},{"f":"tmax_jja","x":0.002,"x2":0.032,"v":0.25},{"f":"tmax_jja","x":0.043,"x2":0.049,"v":0.9},{"f":"tmax_jja","x":0.049,"x2":0.056,"v":0.1},
{"f":"WAI","x":-0.08,"x2":-0.021,"v":0.12},{"f":"WAI","x":-0.021,"x2":-0.016,"v":0.6},{"f":"WAI","x":-0.016,"x2":0.002,"v":0.35},{"f":"WAI","x":0.002,"x2":0.015,"v":0.4},{"f":"WAI","x":0.015,"x2":0.02,"v":0.7},{"f":"WAI","x":0.02,"x2":0.05,"v":0.25},{"f":"WAI","x":0.05,"x2":0.056,"v":1},{"f":"WAI","x":0.058,"x2":0.066,"v":0.6},{"f":"WAI","x":0.067,"x2":0.075,"v":0.6},
{"f":"FAI","x":-0.109,"x2":-0.101,"v":1},{"f":"FAI","x":-0.098,"x2":-0.053,"v":1},{"f":"FAI","x":-0.053,"x2":-0.046,"v":0.15},{"f":"FAI","x":-0.046,"x2":-0.035,"v":0.85},{"f":"FAI","x":-0.035,"x2":-0.016,"v":0.2},{"f":"FAI","x":-0.016,"x2":0.002,"v":1},{"f":"FAI","x":0.002,"x2":0.009,"v":0.3},{"f":"FAI","x":0.009,"x2":0.018,"v":0.5},{"f":"FAI","x":0.018,"x2":0.042,"v":0.2},
{"f":"LC","x":-0.085,"x2":-0.053,"v":0.9},{"f":"LC","x":-0.053,"x2":-0.041,"v":0.2},{"f":"LC","x":-0.041,"x2":-0.025,"v":1},{"f":"LC","x":-0.025,"x2":-0.014,"v":0.2},{"f":"LC","x":-0.014,"x2":0.002,"v":0.3},{"f":"LC","x":0.002,"x2":0.02,"v":0.2}],
"Rt":[
{"f":"rural_pd_s","s":3,"x":-0.04,"w":0.5,"v":1},{"f":"rural_pd_s","s":3,"x":-0.025,"w":0.35,"v":1},{"f":"rural_pd_s","s":3,"x":-0.012,"w":0.35,"v":1},{"f":"rural_pd_s","s":3,"x":0.027,"w":0.25,"v":1},
{"f":"ndvi_mam","s":1,"x":-0.05,"w":0.25,"v":0.63},{"f":"ndvi_mam","s":1,"x":-0.035,"w":0.55,"v":0.63},{"f":"ndvi_mam","s":1,"x":-0.022,"w":0.6,"v":0.63},{"f":"ndvi_mam","s":1,"x":-0.005,"w":0.5,"v":0.63},{"f":"ndvi_mam","s":1,"x":0.015,"w":0.4,"v":0.63},{"f":"ndvi_mam","s":1,"x":0.03,"w":0.25,"v":0.63},
{"f":"popd","s":1,"x":-0.042,"w":0.3,"v":0.3},{"f":"popd","s":1,"x":-0.025,"w":0.35,"v":0.3},{"f":"popd","s":1,"x":-0.01,"w":0.3,"v":0.3}],
"Rp":[
{"f":"rural_pd_s","k":"m","x":-0.048,"w":0.75,"v":0.3},{"f":"rural_pd_s","k":"m","x":0.004,"w":0.75,"v":1},{"f":"pr_jja","k":"m","x":-0.023,"w":0.75,"v":0.2},{"f":"wind_jja","k":"m","x":-0.005,"w":0.75,"v":0.32},{"f":"spei6_aug","k":"o","x":-0.018,"w":0.75,"v":0.7},{"f":"Grazing","k":"m","x":-0.012,"w":0.75,"v":0.35},{"f":"ndvi_mam","k":"n","x":0.004,"w":0.75,"v":0.63},{"f":"area_ha","k":"n","x":-0.01,"w":0.75,"v":0.52},{"f":"popd","k":"m","x":-0.005,"w":0.75,"v":0.3},{"f":"eto_jja","k":"m","x":-0.023,"w":0.5,"v":0.35},{"f":"eto_jja","k":"m","x":0,"w":0.75,"v":0.35},{"f":"WFI","k":"n","x":-0.02,"w":0.5,"v":1},{"f":"WFI","k":"n","x":-0.013,"w":0.75,"v":0.15},{"f":"WFI","k":"n","x":0,"w":0.5,"v":0.15},{"f":"roadd","k":"n","x":-0.006,"w":0.72,"v":0.38},{"f":"tmax_jja","k":"o","x":-0.006,"w":0.75,"v":0.15},{"f":"WAI","k":"n","x":-0.009,"w":0.68,"v":0.35},{"f":"FAI","k":"n","x":-0.008,"w":0.68,"v":1},{"f":"LC","k":"n","x":-0.007,"w":0.68,"v":0.3}]
},
"columns":2,"bounds":"flush","spacing":{"row":270,"column":492},
"concat":[
{"width":512,"height":921,"title":"Lightning","layer":[
{"data":{"values":[{"z":0}]},"mark":{"type":"rule","color":"#888","strokeWidth":3},"encoding":{"x":{"field":"z","type":"quantitative","scale":{"domain":[-0.263,0.218],"nice":false,"zero":false},"axis":{"values":[-0.2,0,0.2],"title":"SHAP value (impact on model output)"}}}},
{"data":{"name":"Lb"},"mark":{"type":"bar","orient":"horizontal","size":14,"cornerRadius":4},"encoding":{"x":{"field":"x","type":"quantitative"},"x2":{"field":"x2"},"y":{"field":"f","type":"nominal","scale":{"domain":["eto_jja","ndvi_mam","popd","tmax_jja","WFI","wind_jja","rural_pd_s","Grazing","pr_jja","spei6_aug","roadd","area_ha","FAI","LC","WAI"],"paddingInner":0,"paddingOuter":0.5},"axis":{"title":null}},"color":{"field":"v","type":"quantitative","scale":{"domain":[0,0.2,0.4,0.5,0.65,0.8,1],"range":["#008bfb","#0a70ee","#6a5bd0","#9b25ac","#b800a0","#dc0080","#ff0051"]},"legend":{"type":"gradient","title":"Feature value","values":[0,1],"labelExpr":"datum.value==1?'High':'Low'","offset":34,"gradientLength":921,"gradientThickness":8,"titleOrient":"right","titleAnchor":"middle","titlePadding":47,"titleLimit":1000,"titleFont":"DejaVu Sans","titleFontWeight":"normal","titleFontSize":52,"titleColor":"black","labelFontSize":42,"labelColor":"black","labelOffset":11,"gradientStrokeWidth":0,"padding":0,"encoding":{"title":{"angle":{"value":270},"baseline":{"value":"bottom"}},"labels":{"baseline":{"value":"middle"}}}}}}},
{"data":{"name":"Lt"},"mark":"trail","encoding":{"x":{"field":"x","type":"quantitative"},"y":{"field":"f","type":"nominal"},"detail":[{"field":"f"},{"field":"s"}],"size":{"field":"w","type":"quantitative","scale":{"domain":[0,1],"range":[0,57.6]},"legend":null},"fill":{"field":"v","type":"quantitative","scale":{"domain":[0,0.2,0.4,0.5,0.65,0.8,1],"range":["#008bfb","#0a70ee","#6a5bd0","#9b25ac","#b800a0","#dc0080","#ff0051"]},"legend":null}}},
{"data":{"name":"Lp"},"mark":{"type":"point","filled":true,"opacity":1},"encoding":{"x":{"field":"x","type":"quantitative"},"y":{"field":"f","type":"nominal"},"shape":{"field":"k","type":"nominal","scale":{"domain":["n","o","m","l"],"range":["M0,-1L0.5,0L0,1L-0.5,0Z","M0,-1L0.75,0L0,1L-0.75,0Z","M0,-1L1.1,0L0,1L-1.1,0Z","M0,-1L1.9,0L0,1L-1.9,0Z"]},"legend":null},"size":{"field":"w","type":"quantitative","scale":{"type":"pow","exponent":2,"domain":[0,1],"range":[0,3318]},"legend":null},"fill":{"field":"v","type":"quantitative","scale":{"domain":[0,0.2,0.4,0.5,0.65,0.8,1],"range":["#008bfb","#0a70ee","#6a5bd0","#9b25ac","#b800a0","#dc0080","#ff0051"]},"legend":null}}}],"resolve":{"scale":{"size":"independent"}}},
{"width":512,"height":921,"title":"Negligence","layer":[
{"data":{"values":[{"z":0}]},"mark":{"type":"rule","color":"#888","strokeWidth":3},"encoding":{"x":{"field":"z","type":"quantitative","scale":{"domain":[-0.1945,0.349],"nice":false,"zero":false},"axis":{"values":[0,0.2],"title":"SHAP value (impact on model output)"}}}},
{"data":{"name":"Nb"},"mark":{"type":"bar","orient":"horizontal","size":14,"cornerRadius":4},"encoding":{"x":{"field":"x","type":"quantitative"},"x2":{"field":"x2"},"y":{"field":"f","type":"nominal","scale":{"domain":["wind_jja","eto_jja","tmax_jja","spei6_aug","pr_jja","rural_pd_s","popd","WFI","ndvi_mam","Grazing","area_ha","roadd","WAI","FAI","LC"],"paddingInner":0,"paddingOuter":0.5},"axis":{"title":null}},"color":{"field":"v","type":"quantitative","scale":{"domain":[0,0.2,0.4,0.5,0.65,0.8,1],"range":["#008bfb","#0a70ee","#6a5bd0","#9b25ac","#b800a0","#dc0080","#ff0051"]},"legend":{"type":"gradient","title":"Feature value","values":[0,1],"labelExpr":"datum.value==1?'High':'Low'","offset":34,"gradientLength":921,"gradientThickness":8,"titleOrient":"right","titleAnchor":"middle","titlePadding":47,"titleLimit":1000,"titleFont":"DejaVu Sans","titleFontWeight":"normal","titleFontSize":52,"titleColor":"black","labelFontSize":42,"labelColor":"black","labelOffset":11,"gradientStrokeWidth":0,"padding":0,"encoding":{"title":{"angle":{"value":270},"baseline":{"value":"bottom"}},"labels":{"baseline":{"value":"middle"}}}}}}},
{"data":{"name":"Nt"},"mark":"trail","encoding":{"x":{"field":"x","type":"quantitative"},"y":{"field":"f","type":"nominal"},"detail":[{"field":"f"},{"field":"s"}],"size":{"field":"w","type":"quantitative","scale":{"domain":[0,1],"range":[0,57.6]},"legend":null},"fill":{"field":"v","type":"quantitative","scale":{"domain":[0,0.2,0.4,0.5,0.65,0.8,1],"range":["#008bfb","#0a70ee","#6a5bd0","#9b25ac","#b800a0","#dc0080","#ff0051"]},"legend":null}}},
{"data":{"name":"Np"},"mark":{"type":"point","filled":true,"opacity":1},"encoding":{"x":{"field":"x","type":"quantitative"},"y":{"field":"f","type":"nominal"},"shape":{"field":"k","type":"nominal","scale":{"domain":["n","o","m","l"],"range":["M0,-1L0.5,0L0,1L-0.5,0Z","M0,-1L0.75,0L0,1L-0.75,0Z","M0,-1L1.1,0L0,1L-1.1,0Z","M0,-1L1.9,0L0,1L-1.9,0Z"]},"legend":null},"size":{"field":"w","type":"quantitative","scale":{"type":"pow","exponent":2,"domain":[0,1],"range":[0,3318]},"legend":null},"fill":{"field":"v","type":"quantitative","scale":{"domain":[0,0.2,0.4,0.5,0.65,0.8,1],"range":["#008bfb","#0a70ee","#6a5bd0","#9b25ac","#b800a0","#dc0080","#ff0051"]},"legend":null}}}],"resolve":{"scale":{"size":"independent"}}},
{"width":512,"height":921,"title":"Intentional","layer":[
{"data":{"values":[{"z":0}]},"mark":{"type":"rule","color":"#888","strokeWidth":3},"encoding":{"x":{"field":"z","type":"quantitative","scale":{"domain":[-0.2615,0.3145],"nice":false,"zero":false},"axis":{"values":[-0.2,0,0.2],"title":"SHAP value (impact on model output)"}}}},
{"data":{"name":"Ib"},"mark":{"type":"bar","orient":"horizontal","size":14,"cornerRadius":4},"encoding":{"x":{"field":"x","type":"quantitative"},"x2":{"field":"x2"},"y":{"field":"f","type":"nominal","scale":{"domain":["eto_jja","wind_jja","tmax_jja","popd","ndvi_mam","WFI","pr_jja","rural_pd_s","Grazing","spei6_aug","area_ha","roadd","FAI","WAI","LC"],"paddingInner":0,"paddingOuter":0.5},"axis":{"title":null}},"color":{"field":"v","type":"quantitative","scale":{"domain":[0,0.2,0.4,0.5,0.65,0.8,1],"range":["#008bfb","#0a70ee","#6a5bd0","#9b25ac","#b800a0","#dc0080","#ff0051"]},"legend":{"type":"gradient","title":"Feature value","values":[0,1],"labelExpr":"datum.value==1?'High':'Low'","offset":34,"gradientLength":921,"gradientThickness":8,"titleOrient":"right","titleAnchor":"middle","titlePadding":47,"titleLimit":1000,"titleFont":"DejaVu Sans","titleFontWeight":"normal","titleFontSize":52,"titleColor":"black","labelFontSize":42,"labelColor":"black","labelOffset":11,"gradientStrokeWidth":0,"padding":0,"encoding":{"title":{"angle":{"value":270},"baseline":{"value":"bottom"}},"labels":{"baseline":{"value":"middle"}}}}}}},
{"data":{"name":"It"},"mark":"trail","encoding":{"x":{"field":"x","type":"quantitative"},"y":{"field":"f","type":"nominal"},"detail":[{"field":"f"},{"field":"s"}],"size":{"field":"w","type":"quantitative","scale":{"domain":[0,1],"range":[0,57.6]},"legend":null},"fill":{"field":"v","type":"quantitative","scale":{"domain":[0,0.2,0.4,0.5,0.65,0.8,1],"range":["#008bfb","#0a70ee","#6a5bd0","#9b25ac","#b800a0","#dc0080","#ff0051"]},"legend":null}}},
{"data":{"name":"Ip"},"mark":{"type":"point","filled":true,"opacity":1},"encoding":{"x":{"field":"x","type":"quantitative"},"y":{"field":"f","type":"nominal"},"shape":{"field":"k","type":"nominal","scale":{"domain":["n","o","m","l"],"range":["M0,-1L0.5,0L0,1L-0.5,0Z","M0,-1L0.75,0L0,1L-0.75,0Z","M0,-1L1.1,0L0,1L-1.1,0Z","M0,-1L1.9,0L0,1L-1.9,0Z"]},"legend":null},"size":{"field":"w","type":"quantitative","scale":{"type":"pow","exponent":2,"domain":[0,1],"range":[0,3318]},"legend":null},"fill":{"field":"v","type":"quantitative","scale":{"domain":[0,0.2,0.4,0.5,0.65,0.8,1],"range":["#008bfb","#0a70ee","#6a5bd0","#9b25ac","#b800a0","#dc0080","#ff0051"]},"legend":null}}}],"resolve":{"scale":{"size":"independent"}}},
{"width":512,"height":921,"title":"Restart of fire","layer":[
{"data":{"values":[{"z":0}]},"mark":{"type":"rule","color":"#888","strokeWidth":3},"encoding":{"x":{"field":"z","type":"quantitative","scale":{"domain":[-0.2526,0.1315],"nice":false,"zero":false},"axis":{"values":[-0.2,-0.1,0,0.1],"title":"SHAP value (impact on model output)"}}}},
{"data":{"name":"Rb"},"mark":{"type":"bar","orient":"horizontal","size":14,"cornerRadius":4},"encoding":{"x":{"field":"x","type":"quantitative"},"x2":{"field":"x2"},"y":{"field":"f","type":"nominal","scale":{"domain":["rural_pd_s","pr_jja","wind_jja","spei6_aug","Grazing","ndvi_mam","area_ha","popd","eto_jja","WFI","roadd","tmax_jja","WAI","FAI","LC"],"paddingInner":0,"paddingOuter":0.5},"axis":{"title":null}},"color":{"field":"v","type":"quantitative","scale":{"domain":[0,0.2,0.4,0.5,0.65,0.8,1],"range":["#008bfb","#0a70ee","#6a5bd0","#9b25ac","#b800a0","#dc0080","#ff0051"]},"legend":{"type":"gradient","title":"Feature value","values":[0,1],"labelExpr":"datum.value==1?'High':'Low'","offset":34,"gradientLength":921,"gradientThickness":8,"titleOrient":"right","titleAnchor":"middle","titlePadding":47,"titleLimit":1000,"titleFont":"DejaVu Sans","titleFontWeight":"normal","titleFontSize":52,"titleColor":"black","labelFontSize":42,"labelColor":"black","labelOffset":11,"gradientStrokeWidth":0,"padding":0,"encoding":{"title":{"angle":{"value":270},"baseline":{"value":"bottom"}},"labels":{"baseline":{"value":"middle"}}}}}}},
{"data":{"name":"Rt"},"mark":"trail","encoding":{"x":{"field":"x","type":"quantitative"},"y":{"field":"f","type":"nominal"},"detail":[{"field":"f"},{"field":"s"}],"size":{"field":"w","type":"quantitative","scale":{"domain":[0,1],"range":[0,57.6]},"legend":null},"fill":{"field":"v","type":"quantitative","scale":{"domain":[0,0.2,0.4,0.5,0.65,0.8,1],"range":["#008bfb","#0a70ee","#6a5bd0","#9b25ac","#b800a0","#dc0080","#ff0051"]},"legend":null}}},
{"data":{"name":"Rp"},"mark":{"type":"point","filled":true,"opacity":1},"encoding":{"x":{"field":"x","type":"quantitative"},"y":{"field":"f","type":"nominal"},"shape":{"field":"k","type":"nominal","scale":{"domain":["n","o","m","l"],"range":["M0,-1L0.5,0L0,1L-0.5,0Z","M0,-1L0.75,0L0,1L-0.75,0Z","M0,-1L1.1,0L0,1L-1.1,0Z","M0,-1L1.9,0L0,1L-1.9,0Z"]},"legend":null},"size":{"field":"w","type":"quantitative","scale":{"type":"pow","exponent":2,"domain":[0,1],"range":[0,3318]},"legend":null},"fill":{"field":"v","type":"quantitative","scale":{"domain":[0,0.2,0.4,0.5,0.65,0.8,1],"range":["#008bfb","#0a70ee","#6a5bd0","#9b25ac","#b800a0","#dc0080","#ff0051"]},"legend":null}}}],"resolve":{"scale":{"size":"independent"}}}
],"resolve":{"scale":{"x":"independent","y":"independent","color":"independent","fill":"independent","size":"independent","shape":"independent"}}}
